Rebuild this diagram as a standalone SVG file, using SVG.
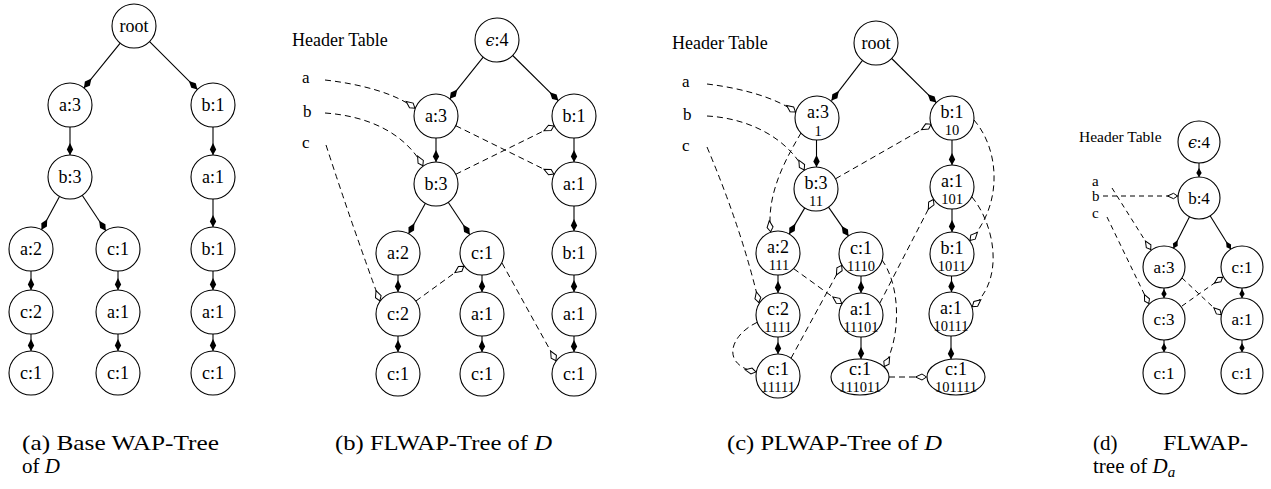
<svg xmlns="http://www.w3.org/2000/svg" width="1271" height="489" viewBox="0 0 1271 489">
<defs>
<style>
  .n{fill:#fff;stroke:#000;stroke-width:1.1}
  .l{font-family:"Liberation Serif","DejaVu Serif",serif;font-size:18px;text-anchor:middle;fill:#000}
  .ld{font-family:"Liberation Serif","DejaVu Serif",serif;font-size:17px;text-anchor:middle;fill:#000}
  .s{font-family:"Liberation Serif","DejaVu Serif",serif;font-size:14.5px;text-anchor:middle;fill:#000}
  .eps{font-family:"DejaVu Serif",serif;font-style:italic;font-size:16px}
  .h{font-family:"Liberation Serif","DejaVu Serif",serif;font-size:18px;fill:#000}
  .hd{font-family:"Liberation Serif","DejaVu Serif",serif;font-size:15.5px;fill:#000}
  .k{font-family:"Liberation Serif","DejaVu Serif",serif;font-size:17px;fill:#000}
  .kd{font-family:"Liberation Serif","DejaVu Serif",serif;font-size:15px;fill:#000}
  .cap{font-family:"Liberation Serif","DejaVu Serif",serif;font-size:21px;fill:#000}
  .e{fill:none;stroke:#000;stroke-width:1.1;marker-end:url(#fd)}
  .es{fill:none;stroke:#000;stroke-width:1.1;marker-end:url(#fds)}
  .d{fill:none;stroke:#000;stroke-width:1;stroke-dasharray:6 4;marker-end:url(#hd)}
  .dd{fill:none;stroke:#000;stroke-width:1;stroke-dasharray:5 4;marker-end:url(#hds)}
</style>
<!-- filled diamond head for tree edges -->
<marker id="fd" viewBox="-13 -4 14 8" refX="0" refY="0" markerWidth="14" markerHeight="8" markerUnits="userSpaceOnUse" orient="auto">
  <path d="M0,0 L-5.5,-3.2 L-12,0 L-5.5,3.2 Z" fill="#000"/>
</marker>
<marker id="fds" viewBox="-10 -3.5 11 7" refX="0" refY="0" markerWidth="11" markerHeight="7" markerUnits="userSpaceOnUse" orient="auto">
  <path d="M0,0 L-4,-2.7 L-9,0 L-4,2.7 Z" fill="#000"/>
</marker>
<!-- hollow diamond head for node links -->
<marker id="hd" viewBox="-13 -4 14 8" refX="0" refY="0" markerWidth="14" markerHeight="8" markerUnits="userSpaceOnUse" orient="auto">
  <path d="M-0.5,0 L-5,-3 L-11.5,0 L-5,3 Z" fill="#fff" stroke="#000" stroke-width="1"/>
</marker>
<marker id="hds" viewBox="-12 -4 13 8" refX="0" refY="0" markerWidth="13" markerHeight="8" markerUnits="userSpaceOnUse" orient="auto">
  <path d="M-0.5,0 L-4.5,-2.7 L-10.5,0 L-4.5,2.7 Z" fill="#fff" stroke="#000" stroke-width="1"/>
</marker>
</defs>
<rect width="1271" height="489" fill="#fff"/>

<!-- ===== (a) Base WAP-Tree ===== -->
<g id="a-edges">
  <path class="e" d="M120.2,43.1 L83.9,87.9"/>
  <path class="e" d="M149.6,41.6 L197.4,89.4"/>
  <path class="e" d="M70,127 L70,155"/>
  <path class="e" d="M213,127 L213,155"/>
  <path class="e" d="M59.5,196.4 L41.5,229.7"/>
  <path class="e" d="M82.2,195.3 L105.8,230.7"/>
  <path class="e" d="M213,199 L213,227"/>
  <path class="e" d="M31,271 L31,290"/>
  <path class="e" d="M118,271 L118,290"/>
  <path class="e" d="M213,271 L213,290"/>
  <path class="e" d="M31,334 L31,351"/>
  <path class="e" d="M118,334 L118,351"/>
  <path class="e" d="M213,334 L213,351"/>
</g>
<g id="a-root"><circle class="n" cx="134" cy="26" r="22"/><text class="l" x="134" y="32">root</text></g>
<g id="a-a3"><circle class="n" cx="70" cy="105" r="22"/><text class="l" x="70" y="111">a:3</text></g>
<g id="a-b1"><circle class="n" cx="213" cy="105" r="22"/><text class="l" x="213" y="111">b:1</text></g>
<g id="a-b3"><circle class="n" cx="70" cy="177" r="22"/><text class="l" x="70" y="183">b:3</text></g>
<g id="a-a1"><circle class="n" cx="213" cy="177" r="22"/><text class="l" x="213" y="183">a:1</text></g>
<g id="a-a2"><circle class="n" cx="31" cy="249" r="22"/><text class="l" x="31" y="255">a:2</text></g>
<g id="a-c1"><circle class="n" cx="118" cy="249" r="22"/><text class="l" x="118" y="255">c:1</text></g>
<g id="a-b1b"><circle class="n" cx="213" cy="249" r="22"/><text class="l" x="213" y="255">b:1</text></g>
<g id="a-c2"><circle class="n" cx="31" cy="312" r="22"/><text class="l" x="31" y="318">c:2</text></g>
<g id="a-a1b"><circle class="n" cx="118" cy="312" r="22"/><text class="l" x="118" y="318">a:1</text></g>
<g id="a-a1c"><circle class="n" cx="213" cy="312" r="22"/><text class="l" x="213" y="318">a:1</text></g>
<g id="a-c1b"><circle class="n" cx="31" cy="373" r="22"/><text class="l" x="31" y="379">c:1</text></g>
<g id="a-c1c"><circle class="n" cx="118" cy="373" r="22"/><text class="l" x="118" y="379">c:1</text></g>
<g id="a-c1d"><circle class="n" cx="213" cy="373" r="22"/><text class="l" x="213" y="379">c:1</text></g>
<text class="cap" x="22" y="450" textLength="197" lengthAdjust="spacingAndGlyphs">(a) Base WAP-Tree</text>
<text class="cap" x="22" y="473">of <tspan font-style="italic">D</tspan></text>

<!-- ===== (b) FLWAP-Tree ===== -->
<text class="h" x="292" y="46">Header Table</text>
<text class="k" x="302" y="83">a</text>
<text class="k" x="303" y="117">b</text>
<text class="k" x="302" y="148">c</text>
<g id="b-edges">
  <path class="e" d="M483.2,57.2 L449.8,98.8"/>
  <path class="e" d="M512.7,55.5 L558.3,100.6"/>
  <path class="e" d="M436,138 L436,162"/>
  <path class="e" d="M574,138 L574,162"/>
  <path class="e" d="M425.4,203.3 L408.6,233.7"/>
  <path class="e" d="M448.2,202.3 L469.8,234.7"/>
  <path class="e" d="M574,206 L574,231"/>
  <path class="e" d="M398,275 L398,292"/>
  <path class="e" d="M482,275 L482,292"/>
  <path class="e" d="M574,275 L574,292"/>
  <path class="e" d="M398,336 L398,352"/>
  <path class="e" d="M482,336 L482,352"/>
  <path class="e" d="M574,336 L574,352"/>
  <!-- node links -->
  <path class="d" d="M325,80 C360,84 395,93 415.3,108.5"/>
  <path class="d" d="M455.7,125.7 L554.3,174.3"/>
  <path class="d" d="M325,113 C368,116 405,133 423.1,166.2"/>
  <path class="d" d="M455.7,174.3 L554.3,125.7"/>
  <path class="d" d="M326,145 Q352,225 380,301.4"/>
  <path class="d" d="M415.8,301.1 L464.2,265.9"/>
  <path class="d" d="M502,263 L556.2,361.1"/>
</g>
<g id="b-root"><circle class="n" cx="497" cy="40" r="22"/><text class="l" x="497" y="46"><tspan class="eps">ϵ</tspan>:4</text></g>
<g id="b-a3"><circle class="n" cx="436" cy="116" r="22"/><text class="l" x="436" y="122">a:3</text></g>
<g id="b-b1"><circle class="n" cx="574" cy="116" r="22"/><text class="l" x="574" y="122">b:1</text></g>
<g id="b-b3"><circle class="n" cx="436" cy="184" r="22"/><text class="l" x="436" y="190">b:3</text></g>
<g id="b-a1"><circle class="n" cx="574" cy="184" r="22"/><text class="l" x="574" y="190">a:1</text></g>
<g id="b-a2"><circle class="n" cx="398" cy="253" r="22"/><text class="l" x="398" y="259">a:2</text></g>
<g id="b-c1"><circle class="n" cx="482" cy="253" r="22"/><text class="l" x="482" y="259">c:1</text></g>
<g id="b-b1b"><circle class="n" cx="574" cy="253" r="22"/><text class="l" x="574" y="259">b:1</text></g>
<g id="b-c2"><circle class="n" cx="398" cy="314" r="22"/><text class="l" x="398" y="320">c:2</text></g>
<g id="b-a1b"><circle class="n" cx="482" cy="314" r="22"/><text class="l" x="482" y="320">a:1</text></g>
<g id="b-a1c"><circle class="n" cx="574" cy="314" r="22"/><text class="l" x="574" y="320">a:1</text></g>
<g id="b-c1b"><circle class="n" cx="398" cy="374" r="22"/><text class="l" x="398" y="380">c:1</text></g>
<g id="b-c1c"><circle class="n" cx="482" cy="374" r="22"/><text class="l" x="482" y="380">c:1</text></g>
<g id="b-c1d"><circle class="n" cx="574" cy="374" r="22"/><text class="l" x="574" y="380">c:1</text></g>
<text class="cap" x="335" y="450" textLength="217" lengthAdjust="spacingAndGlyphs">(b) FLWAP-Tree of <tspan font-style="italic">D</tspan></text>

<!-- ===== (c) PLWAP-Tree ===== -->
<text class="h" x="672" y="49">Header Table</text>
<text class="k" x="682" y="87">a</text>
<text class="k" x="683" y="120">b</text>
<text class="k" x="682" y="151">c</text>
<g id="c-edges">
  <path class="e" d="M862.5,60.4 L831.5,100.6"/>
  <path class="e" d="M891.7,58.5 L936.3,102.6"/>
  <path class="e" d="M816.5,140 L816.5,167"/>
  <path class="e" d="M952,140 L952,165"/>
  <path class="e" d="M804.8,207.9 L789.2,234.1"/>
  <path class="e" d="M828.5,207.1 L848.5,235.9"/>
  <path class="e" d="M952,209 L952,232"/>
  <path class="e" d="M778,275 L778,293"/>
  <path class="e" d="M861,276 L861,293"/>
  <path class="e" d="M951.5,276 L951.5,292"/>
  <path class="e" d="M778,337 L778,354"/>
  <path class="e" d="M861,337 L861,359"/>
  <path class="e" d="M951,336 L951,359.3"/>
  <!-- node links -->
  <path class="d" d="M707,84 C740,88 775,97 795.9,112.3"/>
  <path class="d" d="M707,116 C745,118 785,135 804.4,170.3"/>
  <path class="d" d="M707,147 Q742,230 759,303"/>
  <path class="d" d="M801,133 C785,160 766,195 770.7,232.2"/>
  <path class="d" d="M835.5,178.8 L931.5,124"/>
  <path class="d" d="M974,120 C1000,150 1003,205 969.6,240.8"/>
  <path class="d" d="M972,197 C995,225 1005,280 971.9,307"/>
  <path class="d" d="M879.7,303.4 L933.6,199"/>
  <path class="d" d="M882,260 C900,285 902,335 884,367"/>
  <path class="d" d="M889,377 L927,377"/>
  <path class="d" d="M793.6,268.6 L842.1,303.7"/>
  <path class="d" d="M757.2,322.3 C730,335 720,365 756.4,372"/>
  <path class="d" d="M791,358.3 L841.9,264.9"/>
</g>
<g id="c-root"><circle class="n" cx="876" cy="43" r="22"/><text class="l" x="876" y="49">root</text></g>
<g id="c-a3"><circle class="n" cx="817" cy="118" r="22"/><text class="l" x="818" y="118">a:3</text><text class="s" x="818" y="136">1</text></g>
<g id="c-b1"><circle class="n" cx="952" cy="118" r="22"/><text class="l" x="952" y="118">b:1</text><text class="s" x="952" y="135">10</text></g>
<g id="c-b3"><circle class="n" cx="816" cy="189" r="22"/><text class="l" x="816" y="189">b:3</text><text class="s" x="816" y="206">11</text></g>
<g id="c-a1"><circle class="n" cx="952" cy="187" r="22"/><text class="l" x="952" y="187">a:1</text><text class="s" x="952" y="204">101</text></g>
<g id="c-a2"><circle class="n" cx="778" cy="253" r="22"/><text class="l" x="778" y="253">a:2</text><text class="s" x="779" y="270">111</text></g>
<g id="c-c1"><circle class="n" cx="861" cy="254" r="22"/><text class="l" x="861" y="254">c:1</text><text class="s" x="861" y="271">1110</text></g>
<g id="c-b1b"><circle class="n" cx="952" cy="254" r="22"/><text class="l" x="952" y="254">b:1</text><text class="s" x="952" y="271">1011</text></g>
<g id="c-c2"><circle class="n" cx="778" cy="315" r="22"/><text class="l" x="778" y="315">c:2</text><text class="s" x="778" y="332">1111</text></g>
<g id="c-a1b"><circle class="n" cx="861" cy="315" r="22"/><text class="l" x="861" y="315">a:1</text><text class="s" x="861" y="332">11101</text></g>
<g id="c-a1c"><circle class="n" cx="951" cy="314" r="22"/><text class="l" x="951" y="314">a:1</text><text class="s" x="951" y="331">10111</text></g>
<g id="c-c1b"><circle class="n" cx="778" cy="376" r="22"/><text class="l" x="778" y="375">c:1</text><text class="s" x="778" y="392">11111</text></g>
<g id="c-c1c"><ellipse class="n" cx="860" cy="377" rx="29" ry="18"/><text class="l" x="860" y="375">c:1</text><text class="s" x="860" y="392">111011</text></g>
<g id="c-c1d"><ellipse class="n" cx="956" cy="377" rx="29" ry="18"/><text class="l" x="956" y="375">c:1</text><text class="s" x="956" y="392">101111</text></g>
<text class="cap" x="727" y="450" textLength="215" lengthAdjust="spacingAndGlyphs">(c) PLWAP-Tree of <tspan font-style="italic">D</tspan></text>

<!-- ===== (d) FLWAP-tree of Da ===== -->
<text class="hd" x="1079" y="142">Header Table</text>
<text class="kd" x="1092" y="186">a</text>
<text class="kd" x="1092" y="201">b</text>
<text class="kd" x="1092" y="218">c</text>
<g id="d-edges">
  <path class="es" d="M1199,163 L1199,177"/>
  <path class="es" d="M1189.5,216.7 L1173.5,248.3"/>
  <path class="es" d="M1210.1,215.8 L1230.9,249.2"/>
  <path class="es" d="M1164,288 L1164,298"/>
  <path class="es" d="M1242,288 L1242,298"/>
  <path class="es" d="M1164,340 L1164,352"/>
  <path class="es" d="M1242,340 L1242,352"/>
  <!-- node links -->
  <path class="dd" d="M1112,188 L1151,250"/>
  <path class="dd" d="M1103,196 L1178,196"/>
  <path class="dd" d="M1107,217 L1149,304"/>
  <path class="dd" d="M1182,278 L1221.5,315"/>
  <path class="dd" d="M1182,306 L1223,277"/>
</g>
<g id="d-root"><circle class="n" cx="1199" cy="142" r="21"/><text class="ld" x="1199" y="148"><tspan class="eps">ϵ</tspan>:4</text></g>
<g id="d-b4"><circle class="n" cx="1199" cy="198" r="21"/><text class="ld" x="1199" y="204">b:4</text></g>
<g id="d-a3"><circle class="n" cx="1164" cy="267" r="21"/><text class="ld" x="1164" y="273">a:3</text></g>
<g id="d-c1"><circle class="n" cx="1242" cy="267" r="21"/><text class="ld" x="1242" y="273">c:1</text></g>
<g id="d-c3"><circle class="n" cx="1164" cy="319" r="21"/><text class="ld" x="1164" y="325">c:3</text></g>
<g id="d-a1"><circle class="n" cx="1242" cy="319" r="21"/><text class="ld" x="1242" y="325">a:1</text></g>
<g id="d-c1b"><circle class="n" cx="1164" cy="373" r="21"/><text class="ld" x="1164" y="379">c:1</text></g>
<g id="d-c1c"><circle class="n" cx="1242" cy="373" r="21"/><text class="ld" x="1242" y="379">c:1</text></g>
<text class="cap" x="1093" y="450">(d)</text>
<text class="cap" x="1163" y="450" textLength="85" lengthAdjust="spacingAndGlyphs">FLWAP-</text>
<text class="cap" x="1093" y="473">tree of <tspan font-style="italic">D</tspan><tspan font-style="italic" font-size="15px" dy="4">a</tspan></text>
</svg>
